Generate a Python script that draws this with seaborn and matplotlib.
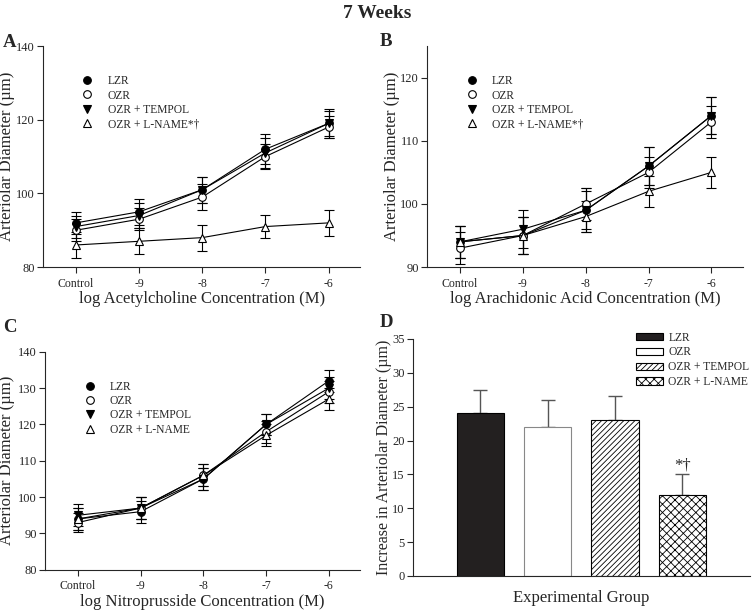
import numpy as np
import pandas as pd
import matplotlib
matplotlib.use("Agg")
import matplotlib.pyplot as plt
import seaborn as sns
from matplotlib.patches import Patch
from matplotlib.lines import Line2D

sns.set_style("ticks")
plt.rcParams['font.family'] = ['Liberation Serif', 'DejaVu Serif']
plt.rcParams['hatch.linewidth'] = 0.6

conc = ["Control", "-9", "-8", "-7", "-6"]
groups = ["LZR", "OZR", "OZR + TEMPOL", "OZR + L-NAME"]

# panel A: acetylcholine
ach_mean = {
    "LZR": [92, 95, 101, 112, 119],
    "OZR": [90, 93, 99, 110, 118],
    "OZR + TEMPOL": [91, 94, 101, 111, 119],
    "OZR + L-NAME": [86, 87, 88, 91, 92],
}
ach_err = {
    "LZR": [3, 3.5, 3.5, 4, 3.5],
    "OZR": [3, 3, 3.5, 3.5, 3],
    "OZR + TEMPOL": [3, 3.5, 3.5, 4, 4],
    "OZR + L-NAME": [3.5, 3.5, 3.5, 3.2, 3.5],
}
# panel B: arachidonic acid
aa_mean = {
    "LZR": [94, 95, 99, 106, 114],
    "OZR": [93, 95, 100, 105, 113],
    "OZR + TEMPOL": [94, 96, 99, 106, 114],
    "OZR + L-NAME": [94, 95, 98, 102, 105],
}
aa_err = {
    "LZR": [2.5, 3, 3.5, 3, 3],
    "OZR": [2.5, 3, 2.5, 2.5, 2.5],
    "OZR + TEMPOL": [2.5, 3, 3, 3, 3],
    "OZR + L-NAME": [2.5, 3, 2.5, 2.5, 2.5],
}
# panel C: nitroprusside
snp_mean = {
    "LZR": [94, 96, 105, 120, 132],
    "OZR": [93, 97, 106, 118, 129],
    "OZR + TEMPOL": [95, 97, 105, 120, 130],
    "OZR + L-NAME": [94, 97, 106, 117, 127],
}
snp_err = {
    "LZR": [3, 3, 3, 3, 3],
    "OZR": [2.5, 3, 3, 3, 3],
    "OZR + TEMPOL": [3, 3, 3, 3, 3],
    "OZR + L-NAME": [3, 3, 3, 3, 3],
}
# panel D: bars
bar_mean = [24, 22, 23, 12]
bar_err = [3.5, 4, 3.5, 3]

markers = {"LZR": "o", "OZR": "o", "OZR + TEMPOL": "v", "OZR + L-NAME": "^"}
faces = {"LZR": "black", "OZR": "white", "OZR + TEMPOL": "black", "OZR + L-NAME": "white"}


def dose_panel(ax, means, errs, ylim, yticks, xlabel, labels, ylab_x):
    x = np.arange(len(conc))
    for g in groups:
        df = pd.DataFrame({"x": x, "y": means[g]})
        ax.errorbar(x, means[g], yerr=errs[g], fmt="none", ecolor="black",
                    elinewidth=0.8, capsize=3.5, capthick=0.8, zorder=2)
        sns.lineplot(data=df, x="x", y="y", ax=ax, color="black", lw=0.8,
                     marker=markers[g], markersize=5.5, markerfacecolor=faces[g],
                     markeredgecolor="black", markeredgewidth=0.8, zorder=3)
    ax.set_xlim(-0.52, 4.5)
    ax.set_ylim(*ylim)
    ax.set_yticks(yticks)
    ax.set_xticks(x)
    ax.set_xticklabels(conc)
    ax.set_xlabel(xlabel, fontsize=12, labelpad=1)
    ax.set_ylabel("Arteriolar Diameter (\u00b5m)", fontsize=12)
    ax.yaxis.set_label_coords(ylab_x, 0.5)
    ax.tick_params(axis="x", labelsize=8.5, length=4, width=0.8)
    ax.tick_params(axis="y", labelsize=9, length=4, width=0.8, pad=2)
    sns.despine(ax=ax)
    handles = [Line2D([], [], ls="none", marker=markers[g], markersize=5.5,
                      markerfacecolor=faces[g], markeredgecolor="black",
                      markeredgewidth=0.8) for g in groups]
    ax.legend(handles, labels, loc="upper left", bbox_to_anchor=(0.08, 0.915),
              frameon=False, fontsize=8.3, handletextpad=1.0, labelspacing=0.2,
              handlelength=1.5)


fig = plt.figure(figsize=(7.55, 6.14), dpi=100)
axA = fig.add_axes([0.057, 0.565, 0.42, 0.36])
axB = fig.add_axes([0.566, 0.565, 0.418, 0.36])
axC = fig.add_axes([0.060, 0.072, 0.417, 0.355])
axD = fig.add_axes([0.547, 0.062, 0.446, 0.386])

star = ["LZR", "OZR", "OZR + TEMPOL", "OZR + L-NAME*\u2020"]
dose_panel(axA, ach_mean, ach_err, (80, 140), [80, 100, 120, 140],
           "log Acetylcholine Concentration (M)", star, -0.088)
dose_panel(axB, aa_mean, aa_err, (90, 125), [90, 100, 110, 120],
           "log Arachidonic Acid Concentration (M)", star, -0.088)
dose_panel(axC, snp_mean, snp_err, (80, 140), [80, 90, 100, 110, 120, 130, 140],
           "log Nitroprusside Concentration (M)", groups, -0.095)

# panel D
dfD = pd.DataFrame({"group": groups, "val": bar_mean})
sns.barplot(data=dfD, x="group", y="val", hue="group", palette=["#231f20", "white", "white", "white"],
            width=0.7, ax=axD, legend=False, edgecolor="black", linewidth=0.8, zorder=2)
hatches = [None, None, "//////", "xxxx"]
for p, h, g in zip(axD.patches, hatches, groups):
    if h:
        p.set_hatch(h)
    if g == "OZR":
        p.set_edgecolor("#888888")
xs = np.arange(len(groups))
axD.errorbar(xs, bar_mean, yerr=[np.zeros(4), bar_err], fmt="none", ecolor="#555555",
             elinewidth=1.0, capsize=5, capthick=1.0, zorder=1)
axD.text(3, bar_mean[3] + bar_err[3] + 0.2, "*\u2020", ha="center", va="bottom", fontsize=12)
axD.set_xlim(-1.0, 4.0)
axD.set_ylim(0, 35)
axD.set_yticks(range(0, 36, 5))
axD.set_xticks([])
axD.set_xlabel("Experimental Group", fontsize=12, labelpad=10)
axD.set_ylabel("Increase in Arteriolar Diameter (\u00b5m)", fontsize=11.5)
axD.yaxis.set_label_coords(-0.062, 0.5)
axD.tick_params(labelsize=9, length=4, width=0.8, pad=2)
sns.despine(ax=axD)
phandles = [Patch(facecolor="#231f20", edgecolor="black", lw=0.8),
            Patch(facecolor="white", edgecolor="black", lw=0.8),
            Patch(facecolor="white", edgecolor="black", lw=0.8, hatch="//////"),
            Patch(facecolor="white", edgecolor="black", lw=0.8, hatch="xxxx")]
axD.legend(phandles, groups, loc="upper right", bbox_to_anchor=(1.03, 1.075), frameon=False,
           fontsize=8.3, handlelength=2.3, handleheight=0.6, labelspacing=0.25,
           handletextpad=0.5)

fig.text(0.004, 0.93, "A", fontsize=13.5, fontweight="bold", va="center")
fig.text(0.503, 0.932, "B", fontsize=13.5, fontweight="bold", va="center")
fig.text(0.004, 0.467, "C", fontsize=13.5, fontweight="bold", va="center")
fig.text(0.503, 0.475, "D", fontsize=13.5, fontweight="bold", va="center")
fig.text(0.5, 0.978, "7 Weeks", fontsize=14, fontweight="bold", ha="center", va="center")

fig.savefig("out.png", dpi=100)
